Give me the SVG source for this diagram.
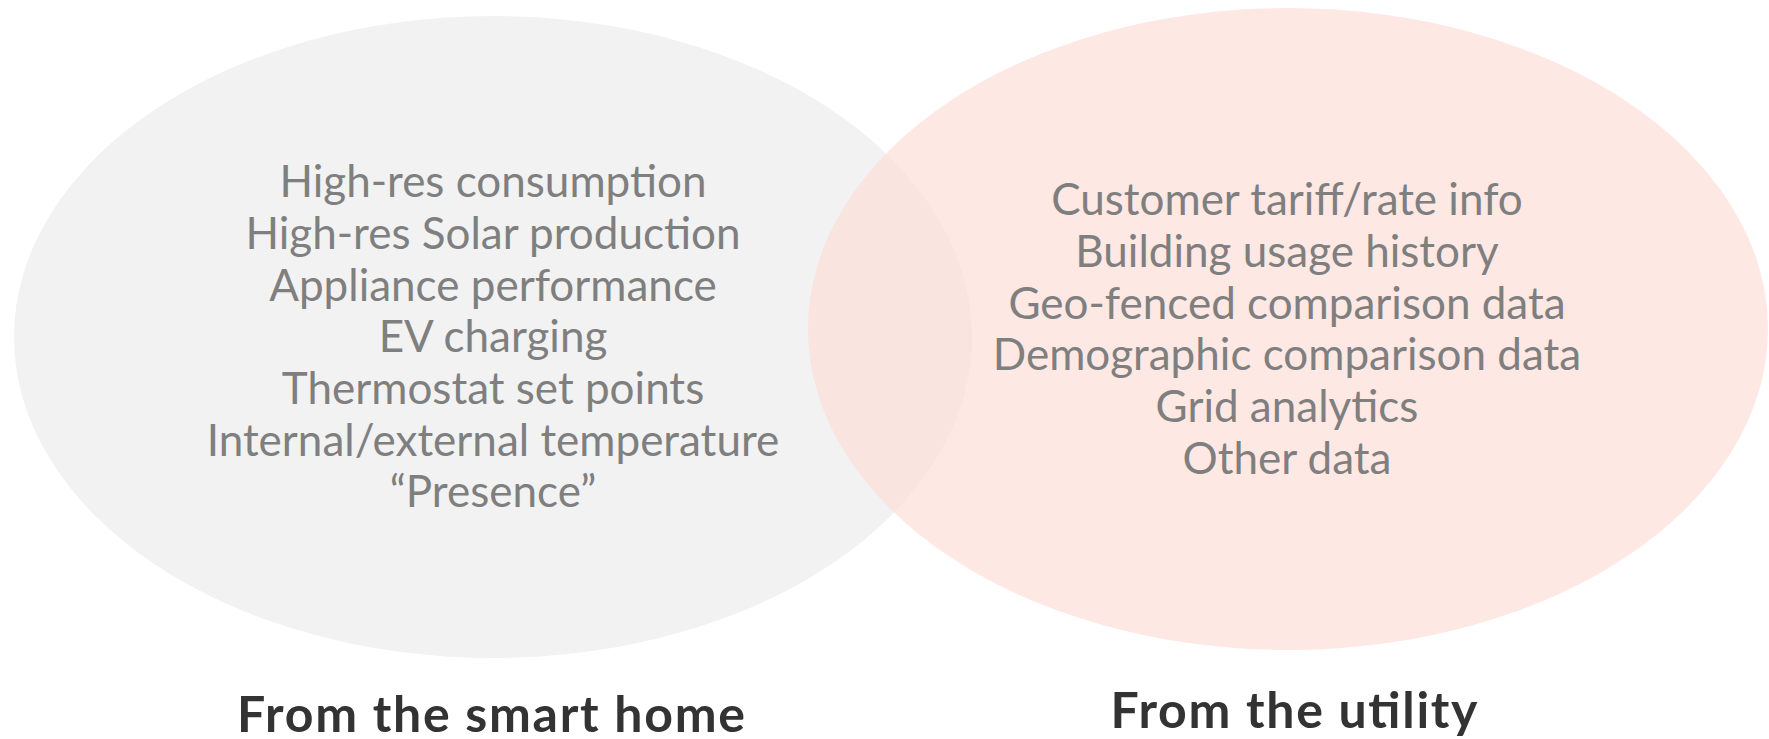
<svg xmlns="http://www.w3.org/2000/svg" width="1769" height="739" viewBox="0 0 1769 739">
  <style>
    .item { font-family: Lato, "Noto Sans", "Liberation Sans", sans-serif; font-size: 44px; fill: #7f7f7f; text-anchor: middle; }
    .title { font-family: Lato, "Noto Sans", "Liberation Sans", sans-serif; font-size: 50px; font-weight: bold; fill: #333333; text-anchor: middle; }
  </style>
  <rect x="0" y="0" width="1769" height="739" fill="#ffffff"/>
  <g id="smart-home">
    <ellipse cx="493" cy="337" rx="479" ry="321" fill="#f2f2f2"/>
  </g>
  <g id="utility">
    <ellipse cx="1288" cy="329" rx="480" ry="321" fill="#fcdcd5" fill-opacity="0.65"/>
  </g>
  <g id="smart-home-items">
    <text class="item" x="493" y="197">High-res consumption</text>
    <text class="item" x="493" y="249">High-res Solar production</text>
    <text class="item" x="493" y="300.5">Appliance performance</text>
    <text class="item" x="493" y="352">EV charging</text>
    <text class="item" x="493" y="404">Thermostat set points</text>
    <text class="item" x="493" y="456">Internal/external temperature</text>
    <text class="item" x="493" y="507">“Presence”</text>
  </g>
  <g id="utility-items">
    <text class="item" x="1287" y="214.5">Customer tariff/rate info</text>
    <text class="item" x="1287" y="266.5">Building usage history</text>
    <text class="item" x="1287" y="318.5">Geo-fenced comparison data</text>
    <text class="item" x="1287" y="370">Demographic comparison data</text>
    <text class="item" x="1287" y="422">Grid analytics</text>
    <text class="item" x="1287" y="473.5">Other data</text>
  </g>
  <g id="smart-home-label">
    <text class="title" x="491" y="732" textLength="508" lengthAdjust="spacing">From the smart home</text>
  </g>
  <g id="utility-label">
    <text class="title" x="1294" y="728" textLength="367" lengthAdjust="spacing">From the utility</text>
  </g>
</svg>
